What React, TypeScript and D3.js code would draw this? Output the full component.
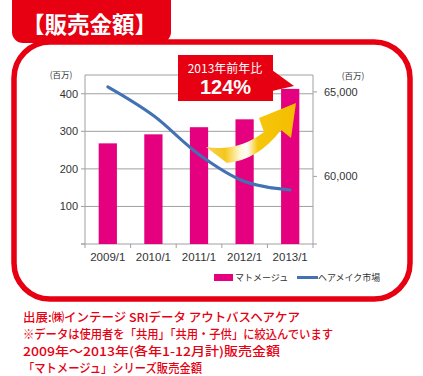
import React from "react";
import * as d3 from "d3";

const categories = ["2009/1", "2010/1", "2011/1", "2012/1", "2013/1"];
const salesValues = [268, 292, 311, 332, 413];
const marketValues = [65300, 63600, 61300, 59700, 59200];
const leftTicks = [0, 100, 200, 300, 400];
const rightTicks = [60000, 65000];
const footnotes = [
  "出展:㈱インテージ SRIデータ アウトバスヘアケア",
  "※データは使用者を「共用」「共用・子供」に絞込んでいます",
  "2009年～2013年(各年1-12月計)販売金額",
  "「マトメージュ」シリーズ販売金額",
];
const footnoteWidths = [277, 310, 257, 179];

const RED = "#e60012";
const PINK = "#e4007f";
const BLUE = "#4272b3";
const GRID = "#a0a0a0";
const LATIN = "'Liberation Sans', Arial, sans-serif";
const JP = "'Noto Sans CJK JP', 'Liberation Sans', sans-serif";

export default function App() {
  const W = 423, H = 376;
  const plot = { left: 85, right: 313, top: 75, bottom: 244 };
  const x = d3.scaleBand<string>().domain(categories).range([plot.left, plot.right]).paddingInner(0.6).paddingOuter(0.3);
  const yL = d3.scaleLinear().domain([0, 450]).range([plot.bottom, plot.top]);
  const yR = d3.scaleLinear().domain([56000, 66000]).range([plot.bottom, plot.top]);
  const cx = (c: string) => (x(c) as number) + x.bandwidth() / 2;
  const line = d3
    .line<number>()
    .x((_, i) => cx(categories[i]))
    .y((d) => yR(d))
    .curve(d3.curveMonotoneX);
  const boundaries = d3.range(categories.length + 1).map((i) => plot.left + i * ((plot.right - plot.left) / categories.length));

  return (
    <svg width={W} height={H} style={{ position: "absolute", left: 0, top: 0, background: "#fff" }}>
      <defs>
        <linearGradient id="arrowGrad" x1="205" y1="0" x2="296" y2="0" gradientUnits="userSpaceOnUse">
          <stop offset="0" stopColor="#f3d35a" />
          <stop offset="0.22" stopColor="#f5c71a" />
          <stop offset="0.38" stopColor="#fff7d0" />
          <stop offset="0.46" stopColor="#ffffff" />
          <stop offset="0.58" stopColor="#f6c60c" />
          <stop offset="1" stopColor="#f5bd00" />
        </linearGradient>
      </defs>
      {/* frame */}
      <rect x={14} y={42} width={396} height={257} rx={36} ry={36} fill="none" stroke={RED} strokeWidth={5.5} />
      <rect x={12} y={-12} width={159} height={55} rx={11} ry={11} fill={RED} />
      <text x={22} y={23} fill="#fff" fontFamily={JP} fontWeight={700} fontSize={22.5} dominantBaseline="central">
        【販売金額】
      </text>

      {/* gridlines */}
      {[...leftTicks.slice(1), 450].map((t) => (
        <line key={t} x1={plot.left} x2={plot.right} y1={yL(t)} y2={yL(t)} stroke={GRID} strokeWidth={1} />
      ))}
      {/* axes */}
      <line x1={plot.left} x2={plot.left} y1={plot.top} y2={plot.bottom} stroke={GRID} />
      <line x1={plot.right} x2={plot.right} y1={plot.top} y2={plot.bottom} stroke={GRID} />
      <line x1={plot.left - 4} x2={plot.right + 4} y1={plot.bottom} y2={plot.bottom} stroke={GRID} />
      {leftTicks.map((t) => (
        <g key={t}>
          <line x1={plot.left - 4} x2={plot.left} y1={yL(t)} y2={yL(t)} stroke={GRID} />
          {t > 0 && (
            <text x={78} y={yL(t)} textAnchor="end" dominantBaseline="central" fontFamily={LATIN} fontSize={11} fill="#333">
              {t}
            </text>
          )}
        </g>
      ))}
      {rightTicks.map((t) => (
        <g key={t}>
          <line x1={plot.right} x2={plot.right + 4} y1={yR(t)} y2={yR(t)} stroke={GRID} />
          <text x={324} y={yR(t)} dominantBaseline="central" fontFamily={LATIN} fontSize={11} fill="#333">
            {d3.format(",")(t)}
          </text>
        </g>
      ))}
      {boundaries.map((b, i) => (
        <line key={i} x1={b} x2={b} y1={plot.bottom} y2={plot.bottom + 4} stroke={GRID} />
      ))}
      <text x={61} y={74} textAnchor="middle" dominantBaseline="central" fontFamily={JP} fontSize={8.5} fill="#333">(百万)</text>
      <text x={353} y={75} textAnchor="middle" dominantBaseline="central" fontFamily={JP} fontSize={8.5} fill="#333">(百万)</text>

      {/* bars */}
      {categories.map((c, i) => (
        <rect key={c} x={x(c)} y={yL(salesValues[i])} width={x.bandwidth()} height={yL(0) - yL(salesValues[i])} fill={PINK} />
      ))}
      {/* line */}
      <path d={line(marketValues) || ""} fill="none" stroke={BLUE} strokeWidth={3} strokeLinecap="round" />

      {/* x labels */}
      {categories.map((c) => (
        <text key={c} x={cx(c)} y={257} textAnchor="middle" dominantBaseline="central" fontFamily={LATIN} fontSize={11.5} fill="#333">
          {c}
        </text>
      ))}

      {/* arrow */}
      <path
        d="M206,147 Q238,152 264,132 L259,118 L296,103 L291,138 L281,130 Q258,160 227,163 Z"
        fill="url(#arrowGrad)"
      />

      {/* callout */}
      <rect x={178} y={55} width={95} height={46} fill={RED} />
      <polygon points="272,70 294,86 272,91" fill={RED} />
      <text x={225} y={67.5} textAnchor="middle" dominantBaseline="central" fill="#fff" fontFamily={JP} fontSize={12}>
        2013年前年比
      </text>
      <text x={225.5} y={94} textAnchor="middle" fill="#fff" fontFamily={LATIN} fontWeight={700} fontSize={20}>
        124%
      </text>

      {/* legend */}
      <rect x={214} y={274} width={19} height={7} fill={PINK} />
      <text x={235} y={277} dominantBaseline="central" fontFamily={JP} fontSize={9} fill="#333">マトメージュ</text>
      <line x1={297} x2={318} y1={277.5} y2={277.5} stroke={BLUE} strokeWidth={3} />
      <text x={318} y={277} dominantBaseline="central" fontFamily={JP} fontSize={9} fill="#333">ヘアメイク市場</text>

      {/* footnotes */}
      {footnotes.map((f, i) => (
        <text
          key={i}
          x={23}
          y={317 + i * 17}
          dominantBaseline="central"
          fontFamily={JP}
          fontWeight={500}
          fontSize={12.3}
          fill={RED}
          textLength={footnoteWidths[i]}
          lengthAdjust="spacingAndGlyphs"
        >
          {f}
        </text>
      ))}
    </svg>
  );
}
